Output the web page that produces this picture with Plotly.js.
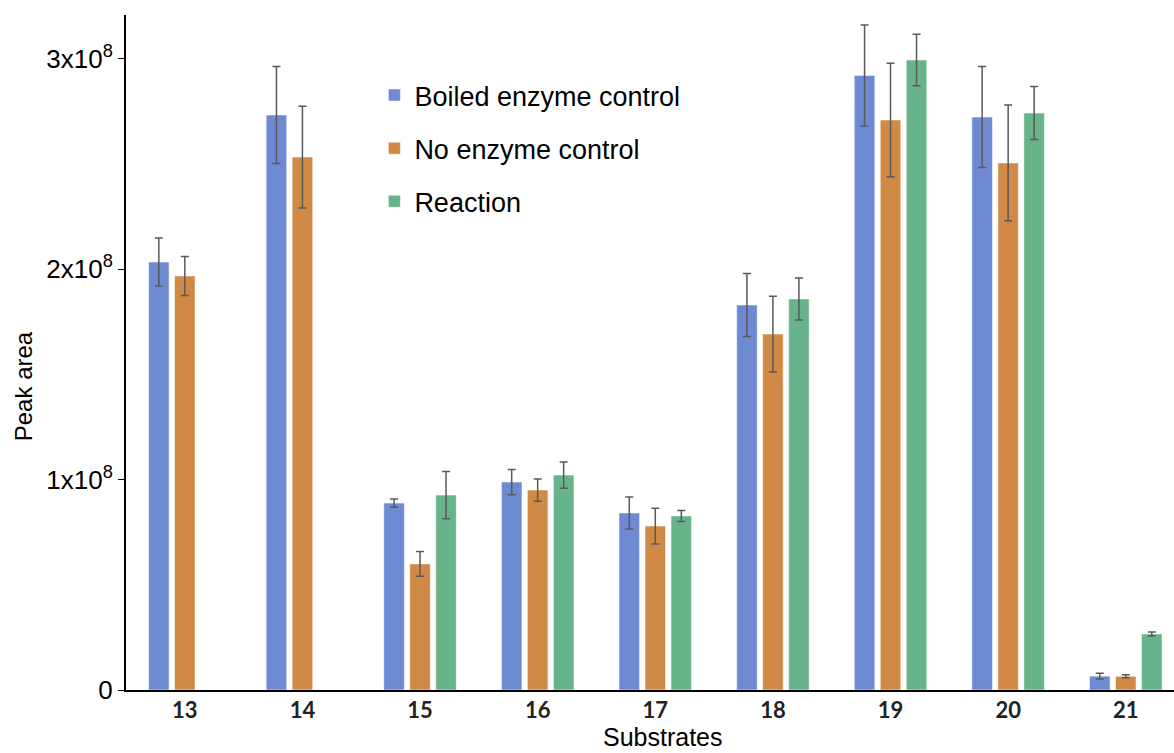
<!DOCTYPE html>
<html>
<head>
<meta charset="utf-8">
<script src="https://cdn.plot.ly/plotly-3.0.1.min.js"></script>
<style>html,body{margin:0;padding:0;background:#fff;}#chart{width:1174px;height:753px;}</style>
</head>
<body>
<div id="chart"></div>
<script>
const substrates = ['13','14','15','16','17','18','19','20','21'];

const boiledValues = [2.033e8, 2.732e8, 0.888e8, 0.988e8, 0.841e8, 1.829e8, 2.920e8, 2.722e8, 0.066e8];
const boiledErrors = [0.114e8, 0.230e8, 0.020e8, 0.060e8, 0.076e8, 0.150e8, 0.240e8, 0.240e8, 0.014e8];

const noEnzymeValues = [1.967e8, 2.532e8, 0.599e8, 0.950e8, 0.779e8, 1.691e8, 2.708e8, 2.504e8, 0.065e8];
const noEnzymeErrors = [0.093e8, 0.242e8, 0.059e8, 0.053e8, 0.085e8, 0.180e8, 0.270e8, 0.275e8, 0.007e8];

const reactionValues = [null, null, 0.926e8, 1.021e8, 0.827e8, 1.858e8, 2.993e8, 2.741e8, 0.266e8];
const reactionErrors = [null, null, 0.112e8, 0.062e8, 0.026e8, 0.100e8, 0.122e8, 0.126e8, 0.010e8];

const yTickVals = [0, 1e8, 2e8, 3e8];
const yTickText = ['0', '1x10<sup>8</sup>', '2x10<sup>8</sup>', '3x10<sup>8</sup>'];

const xTitle = 'Substrates';
const yTitle = 'Peak area';

const errStyle = {type: 'data', visible: true, color: '#595959', thickness: 1.5, width: 4};

function series(name, vals, errs, color, group) {
  return {
    type: 'bar', name: name, x: substrates, y: vals,
    legendgroup: group,
    marker: {color: color, line: {color: 'rgba(255,255,255,0.5)', width: 1}},
    error_y: Object.assign({array: errs}, errStyle),
    hoverinfo: 'x+y'
  };
}

const data = [
  series('Boiled enzyme control', boiledValues, boiledErrors, '#6D8AD2', 'a'),
  series('No enzyme control', noEnzymeValues, noEnzymeErrors, '#D08A45', 'b'),
  series('Reaction', reactionValues, reactionErrors, '#68B48A', 'c')
];

const layout = {
  width: 1174, height: 753,
  margin: {l: 126, r: 0, t: 15, b: 63},
  paper_bgcolor: '#fff', plot_bgcolor: '#fff',
  barmode: 'group', bargap: 0.337, bargroupgap: 0.21,
  font: {family: 'Liberation Sans, Arial, sans-serif', color: '#000'},
  showlegend: true,
  legend: {
    x: 0.237, xanchor: 'left', y: 0.917, yanchor: 'top',
    font: {size: 27, family: 'Liberation Sans, Arial, sans-serif', color: '#000'},
    traceorder: 'grouped', tracegroupgap: 15,
    bgcolor: 'rgba(0,0,0,0)', itemwidth: 30
  },
  xaxis: {
    type: 'category', range: [-0.5, 8.41],
    showline: true, linecolor: '#000', linewidth: 2,
    ticks: '', showgrid: false, zeroline: false,
    tickfont: {family: 'Lato, sans-serif', size: 22, weight: 'bold', color: '#222'}
  },
  yaxis: {
    range: [0, 3.207e8],
    showline: true, linecolor: '#000', linewidth: 2,
    ticks: 'outside', ticklen: 6, tickwidth: 1, tickcolor: '#000',
    tickvals: yTickVals, ticktext: yTickText,
    showgrid: false, zeroline: false,
    tickfont: {size: 26, family: 'Liberation Sans, Arial, sans-serif', color: '#000'}
  },
  annotations: [
    {text: xTitle, xref: 'paper', yref: 'paper', x: 0.5124, y: -0.0696,
     xanchor: 'center', yanchor: 'middle', showarrow: false,
     font: {size: 25, family: 'Liberation Sans, Arial, sans-serif', color: '#000'}},
    {text: yTitle, xref: 'paper', yref: 'paper', x: -0.0983, y: 0.450,
     xanchor: 'center', yanchor: 'middle', textangle: -90, showarrow: false,
     font: {size: 24, family: 'Liberation Sans, Arial, sans-serif', color: '#000'}}
  ]
};

Plotly.newPlot('chart', data, layout, {displayModeBar: false, staticPlot: true});
</script>
</body>
</html>
